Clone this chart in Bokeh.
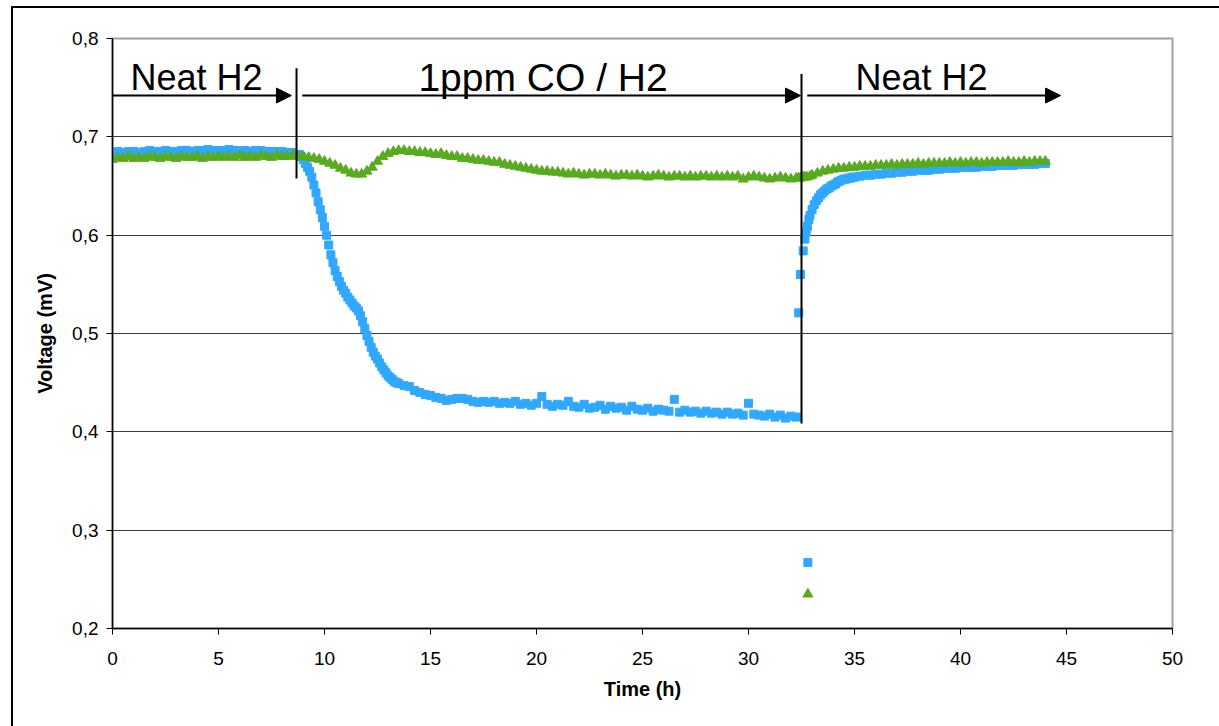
from bokeh.plotting import figure
from bokeh.models import (Range1d, FixedTicker, CustomJSTickFormatter, Arrow,
                          NormalHead, Label, InlineStyleSheet)
from bokeh.embed import file_html
from bokeh.resources import INLINE

# ---------------- data ----------------
# blue squares
square_time_before = [0, 0.25, 0.5, 0.75, 1, 1.25, 1.5, 1.75, 2, 2.25, 2.5, 2.75, 3, 3.25, 3.5, 3.75,
                      4, 4.25, 4.5, 4.75, 5, 5.25, 5.5, 5.75, 6, 6.25, 6.5, 6.75, 7, 7.25, 7.5, 7.75,
                      8, 8.25, 8.5]
square_before = [0.684, 0.685, 0.684, 0.685, 0.685, 0.684, 0.685, 0.686, 0.685, 0.685,
                 0.686, 0.685, 0.685, 0.686, 0.686, 0.685, 0.686, 0.686, 0.687, 0.686,
                 0.686, 0.686, 0.687, 0.686, 0.686, 0.686, 0.685, 0.686, 0.686, 0.685,
                 0.685, 0.685, 0.685, 0.684, 0.684]
square_time_drop = [8.8, 8.9, 9.0, 9.1, 9.2, 9.3, 9.4, 9.5, 9.6, 9.7,
                    9.8, 9.9, 10.0, 10.1, 10.2, 10.3, 10.4, 10.5, 10.6, 10.7,
                    10.8, 10.9, 11.0, 11.1, 11.2, 11.3, 11.4, 11.5, 11.6, 11.7,
                    11.8, 11.9, 12.0, 12.1, 12.2, 12.3, 12.4, 12.5, 12.6, 12.7,
                    12.8, 12.9, 13.0, 13.1, 13.2, 13.3, 13.4]
square_drop = [0.682, 0.680, 0.677, 0.673, 0.669, 0.665, 0.659, 0.651, 0.643, 0.634,
               0.626, 0.618, 0.609, 0.600, 0.590, 0.580, 0.572, 0.564, 0.558, 0.553,
               0.548, 0.544, 0.541, 0.537, 0.534, 0.531, 0.528, 0.526, 0.523, 0.518,
               0.512, 0.505, 0.498, 0.492, 0.486, 0.481, 0.477, 0.474, 0.470, 0.466,
               0.463, 0.460, 0.457, 0.455, 0.453, 0.451, 0.450]
square_time_plateau = [13.5, 13.75, 14, 14.25, 14.5, 14.75, 15, 15.25, 15.5, 15.75,
                       16, 16.25, 16.5, 16.75, 17, 17.25, 17.5, 17.75, 18, 18.25, 18.5, 18.75,
                       19, 19.25, 19.5, 19.75, 20, 20.25, 20.5, 20.75, 21, 21.25, 21.5, 21.75,
                       22, 22.25, 22.5, 22.75, 23, 23.25, 23.5, 23.75, 24, 24.25, 24.5, 24.75,
                       25, 25.25, 25.5, 25.75, 26, 26.25, 26.5, 26.75, 27, 27.25, 27.5, 27.75,
                       28, 28.25, 28.5, 28.75, 29, 29.25, 29.5, 29.75, 30, 30.25, 30.5, 30.75,
                       31, 31.25, 31.5, 31.75, 32, 32.25]
square_plateau = [0.449, 0.447,
                  0.446, 0.442, 0.440, 0.438, 0.437, 0.435, 0.434, 0.432,
                  0.433, 0.434, 0.434, 0.433, 0.431, 0.430, 0.431, 0.430,
                  0.431, 0.429, 0.430, 0.429, 0.431, 0.428, 0.429, 0.427,
                  0.429, 0.436, 0.428, 0.426, 0.428, 0.427, 0.431, 0.426,
                  0.425, 0.428, 0.424, 0.425, 0.427, 0.423, 0.426, 0.424,
                  0.425, 0.422, 0.426, 0.423, 0.422, 0.424, 0.421, 0.423,
                  0.422, 0.421, 0.433, 0.420, 0.422, 0.420, 0.421, 0.419,
                  0.421, 0.419, 0.420, 0.418, 0.420, 0.418, 0.419, 0.417,
                  0.429, 0.418, 0.417, 0.416, 0.418, 0.415, 0.417, 0.414,
                  0.416, 0.415]
square_time_recovery = [32.37, 32.45, 32.58, 32.66, 32.72, 32.78, 32.8, 32.85, 32.9,
                        33.0, 33.1, 33.2, 33.3, 33.4, 33.5, 33.6, 33.7, 33.8, 33.9,
                        34.0, 34.1, 34.2, 34.3, 34.4, 34.5, 34.6, 34.7, 34.8, 34.9, 35.0]
square_recovery = [0.521, 0.560, 0.584, 0.596, 0.603, 0.609, 0.267, 0.616, 0.620,
                   0.626, 0.631, 0.635, 0.638, 0.641, 0.643, 0.645, 0.647, 0.648, 0.650,
                   0.651, 0.652, 0.654, 0.655, 0.656, 0.657, 0.657, 0.658, 0.658, 0.659, 0.659]
square_time_after = [35.25, 35.5, 35.75, 36, 36.25, 36.5, 36.75, 37, 37.25, 37.5, 37.75,
                     38, 38.25, 38.5, 38.75, 39, 39.25, 39.5, 39.75, 40, 40.25, 40.5, 40.75,
                     41, 41.25, 41.5, 41.75, 42, 42.25, 42.5, 42.75, 43, 43.25, 43.5, 43.75, 44]
square_after = [0.660, 0.661, 0.661, 0.662, 0.662, 0.663, 0.663, 0.664, 0.664, 0.665, 0.665,
                0.666, 0.666, 0.666, 0.667, 0.667, 0.668, 0.668, 0.668, 0.669, 0.669, 0.669,
                0.669, 0.670, 0.670, 0.670, 0.671, 0.671, 0.671, 0.671, 0.672, 0.672, 0.672,
                0.672, 0.673, 0.673]

# green triangles
triangle_time_before = square_time_before
triangle_before = [0.677, 0.679, 0.678, 0.680, 0.678, 0.679, 0.678, 0.680, 0.679, 0.678,
                   0.680, 0.679, 0.678, 0.680, 0.679, 0.679, 0.680, 0.678, 0.680, 0.679,
                   0.680, 0.679, 0.680, 0.679, 0.681, 0.679, 0.680, 0.679, 0.681, 0.680,
                   0.679, 0.681, 0.680, 0.680, 0.681]
triangle_time_co = [8.75,
                    9, 9.25, 9.5, 9.75, 10, 10.25, 10.5, 10.75, 11, 11.25, 11.5, 11.75,
                    12, 12.25, 12.5, 12.75, 13, 13.25] + square_time_plateau
triangle_co = [0.680,
               0.680, 0.679, 0.678, 0.677, 0.675, 0.673, 0.671, 0.668, 0.666, 0.663, 0.662, 0.662,
               0.665, 0.669, 0.675, 0.680, 0.683, 0.685, 0.686, 0.686, 0.685, 0.685, 0.684, 0.684,
               0.683, 0.682, 0.683, 0.681, 0.680, 0.680, 0.678, 0.678, 0.677, 0.676, 0.676, 0.675,
               0.674, 0.674, 0.672, 0.671, 0.670, 0.669, 0.668, 0.667, 0.666, 0.665, 0.665, 0.664,
               0.664, 0.663, 0.662, 0.663, 0.662, 0.661, 0.662, 0.662, 0.661, 0.662, 0.661, 0.660,
               0.661, 0.661, 0.660, 0.661, 0.660, 0.659, 0.660, 0.661, 0.660, 0.659, 0.660, 0.660,
               0.659, 0.660, 0.659, 0.660, 0.660, 0.659, 0.660, 0.659, 0.660, 0.659, 0.660, 0.657,
               0.659, 0.660, 0.659, 0.658, 0.657, 0.658, 0.659, 0.658, 0.657, 0.658]
triangle_time_switch = [32.37, 32.45, 32.58, 32.66, 32.75, 32.8, 32.9]
triangle_switch = [0.658, 0.658, 0.659, 0.659, 0.659, 0.235, 0.660]
triangle_time_after = [33, 33.25, 33.5, 33.75, 34, 34.25, 34.5, 34.75, 35] + square_time_after
triangle_after = [0.661, 0.663, 0.665, 0.666, 0.667, 0.668, 0.668, 0.669, 0.669, 0.670, 0.670, 0.670,
                  0.671, 0.671, 0.671, 0.672, 0.671, 0.672, 0.672, 0.672, 0.673, 0.672, 0.673, 0.673,
                  0.673, 0.673, 0.674, 0.673, 0.674, 0.673, 0.674, 0.674, 0.673, 0.674, 0.674, 0.674,
                  0.674, 0.675, 0.674, 0.674, 0.675, 0.674, 0.675, 0.675, 0.675]

x_ticks = [0, 5, 10, 15, 20, 25, 30, 35, 40, 45, 50]
y_ticks = [0.2, 0.3, 0.4, 0.5, 0.6, 0.7, 0.8]

square_time = (square_time_before + square_time_drop + square_time_plateau
               + square_time_recovery + square_time_after)
voltage_square = square_before + square_drop + square_plateau + square_recovery + square_after
triangle_time = (triangle_time_before + triangle_time_co + triangle_time_switch
                 + triangle_time_after)
voltage_triangle = triangle_before + triangle_co + triangle_switch + triangle_after
assert len(square_time) == len(voltage_square)
assert len(triangle_time) == len(voltage_triangle)

FONT = "Liberation Sans"

p = figure(width=1219, height=726, output_backend="svg", toolbar_location=None,
           x_range=Range1d(0, 50), y_range=Range1d(0.2, 0.8),
           min_border_left=112, min_border_right=47, min_border_top=38, min_border_bottom=98)
p.background_fill_color = "white"
p.border_fill_color = None          # let the host background (with the chart-area border) show
p.outline_line_color = "#a0a0a0"
p.outline_line_width = 2

# outer chart-area border: left and top edges, painted as the host's background
p.stylesheets = [InlineStyleSheet(css="""
:host {
  background:
    linear-gradient(#000, #000) 11px 6px / 2px 100% no-repeat,
    linear-gradient(#000, #000) 11px 6px / 100% 2px no-repeat,
    #ffffff;
}
""")]

p.xgrid.visible = False
p.ygrid.ticker = FixedTicker(ticks=y_ticks)
p.ygrid.grid_line_color = "#3c3c3c"
p.ygrid.grid_line_width = 1

p.xaxis.ticker = FixedTicker(ticks=x_ticks)
p.yaxis.ticker = FixedTicker(ticks=y_ticks)
p.yaxis.formatter = CustomJSTickFormatter(code="return tick.toFixed(1).replace('.', ',');")
for ax in (p.xaxis, p.yaxis):
    ax.axis_line_color = "black"
    ax.axis_line_width = 1.5
    ax.major_tick_line_color = "black"
    ax.major_tick_in = 0
    ax.major_tick_out = 6
    ax.minor_tick_line_color = None
    ax.major_label_text_font = FONT
    ax.major_label_text_font_size = "19px"
    ax.major_label_text_color = "black"
    ax.axis_label_text_font = FONT
    ax.axis_label_text_font_style = "bold"
    ax.axis_label_text_font_size = "20px"
    ax.axis_label_text_color = "black"
p.xaxis.axis_label = "Time (h)"
p.yaxis.axis_label = "Voltage (mV)"
p.xaxis.major_label_standoff = 17
p.yaxis.major_label_standoff = 8
p.xaxis.axis_label_standoff = 10
p.yaxis.axis_label_standoff = 13

p.scatter(square_time, voltage_square, marker="square", size=8, fill_color="#31a8ff",
          line_color="#31a8ff")
p.scatter(triangle_time, voltage_triangle, marker="triangle", size=10, fill_color="#58aa1e",
          line_color="#58aa1e")

# annotation lines and arrows
p.segment(x0=[8.68, 32.5], y0=[0.6576, 0.4085], x1=[8.68, 32.5], y1=[0.7698, 0.764],
          line_color="black", line_width=2)
for xs, xe in [(-0.13, 8.44), (8.95, 32.45), (32.77, 44.72)]:
    p.add_layout(Arrow(end=NormalHead(size=15, fill_color="black", line_color="black"),
                       x_start=xs, y_start=0.742, x_end=xe, y_end=0.742,
                       line_color="black", line_width=2))

for txt, xpos, fs in [("Neat H2", 0.85, "36px"), ("1ppm CO / H2", 14.43, "39px"),
                      ("Neat H2", 35.05, "36px")]:
    p.add_layout(Label(x=xpos, y=0.7603, text=txt, text_font=FONT, text_font_size=fs,
                       text_color="black", text_baseline="alphabetic"))

open("out.html", "w").write(file_html(p, INLINE))
